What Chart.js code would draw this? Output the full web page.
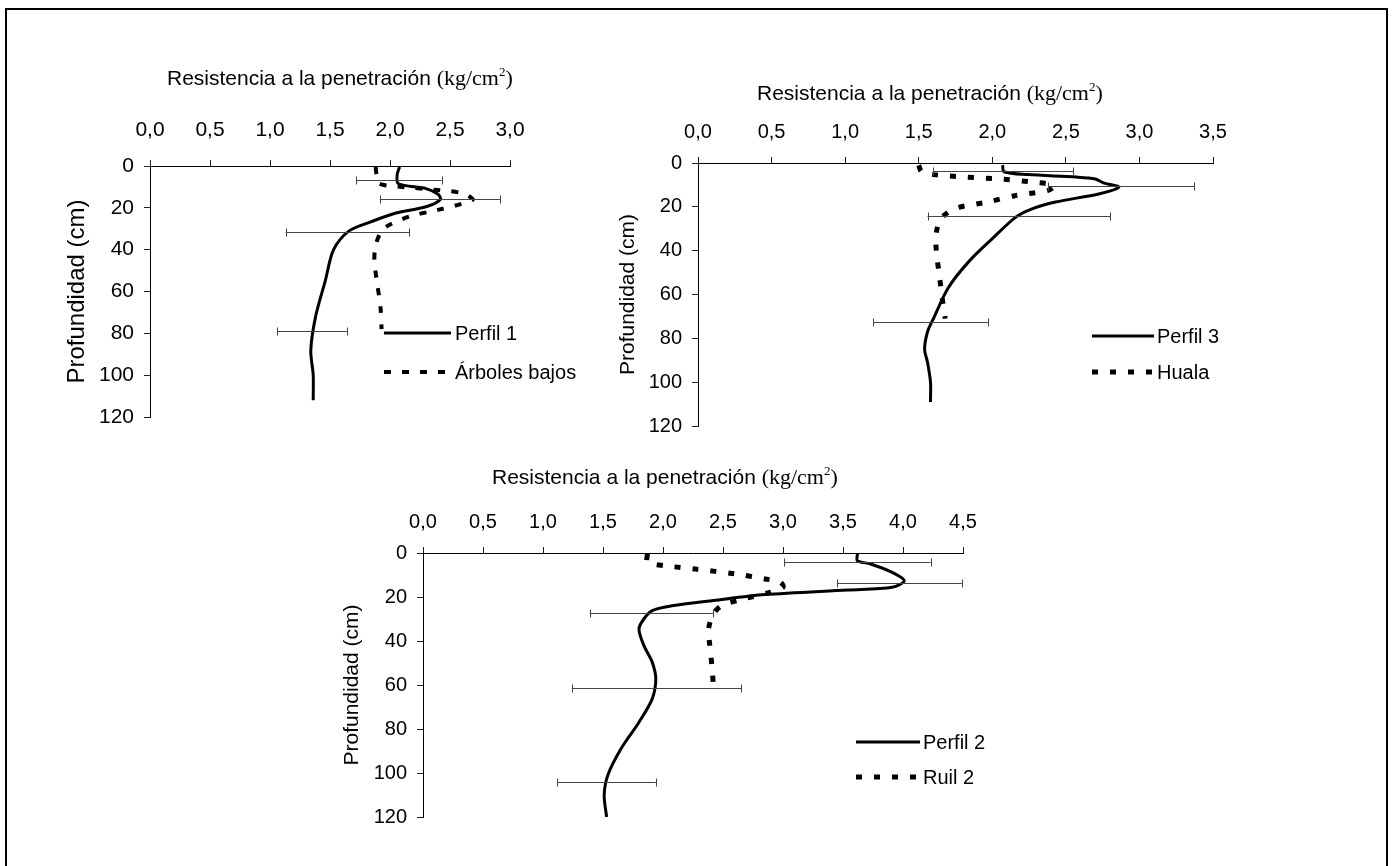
<!DOCTYPE html>
<html>
<head>
<meta charset="utf-8">
<script src="https://cdn.jsdelivr.net/npm/chart.js@4.4.0/dist/chart.umd.min.js"></script>
<style>
html, body { margin: 0; padding: 0; background: #fff; }
#page { position: relative; width: 1394px; height: 866px; overflow: hidden; }
#frame { position: absolute; left: 5px; top: 8px; width: 1383px; height: 900px; border: 2px solid #000; box-sizing: border-box; }
canvas { position: absolute; left: 0; top: 0; }
</style>
</head>
<body>
<div id="page">
  <div id="frame"></div>
  <canvas id="c1" width="1394" height="866"></canvas>
  <canvas id="c2" width="1394" height="866"></canvas>
  <canvas id="c3" width="1394" height="866"></canvas>
</div>
<script>
/***** texts *****/
var titleMain = 'Resistencia a la penetración';
var titleUnit = '(kg/cm';
var titleSup = '2';
var titleClose = ')';
var yTitle = 'Profundidad (cm)';

/***** chart 1: Perfil 1 / Árboles bajos *****/
var names1 = ['Perfil 1', 'Árboles bajos'];
var depthP1 = [0.5, 4, 8.5, 10.8, 13.5, 16, 19.5, 22.5, 26.5, 31, 40, 55, 72, 88, 100, 112];
var resP1 = [2.08, 2.06, 2.07, 2.30, 2.40, 2.42, 2.30, 2.05, 1.85, 1.66, 1.53, 1.46, 1.38, 1.34, 1.36, 1.36];
var depthAB = [0.5, 5, 8.5, 10, 11.5, 13, 16, 18, 21, 24, 28, 31, 38, 45, 55, 67, 78];
var resAB = [1.88, 1.89, 1.91, 2.10, 2.40, 2.60, 2.69, 2.60, 2.40, 2.17, 2.00, 1.93, 1.88, 1.87, 1.89, 1.92, 1.93];
var errDepth1 = [6.5, 16, 31.5, 79];
var errMean1 = [2.075, 2.415, 1.645, 1.35];
var errSd1 = [0.355, 0.5, 0.515, 0.29];
var xTicks1 = [0, 0.5, 1, 1.5, 2, 2.5, 3];

/***** chart 2: Perfil 3 / Huala *****/
var names2 = ['Perfil 3', 'Huala'];
var depthP3 = [1, 4, 5.3, 6.4, 7.3, 9.2, 11, 14, 17.8, 20.9, 24.7, 34.5, 45, 57, 71, 77, 85, 91, 100, 109];
var resP3 = [2.07, 2.08, 2.24, 2.57, 2.70, 2.76, 2.86, 2.73, 2.43, 2.27, 2.16, 2.00, 1.84, 1.70, 1.60, 1.56, 1.54, 1.56, 1.58, 1.58];
var depthHU = [1, 4, 5.3, 6.4, 7.2, 8.7, 10.2, 12.5, 14.8, 17.8, 20.5, 24.7, 31.5, 40.6, 51, 62, 71];
var resHU = [1.50, 1.52, 1.60, 1.81, 2.03, 2.27, 2.42, 2.38, 2.16, 1.97, 1.76, 1.66, 1.62, 1.62, 1.64, 1.66, 1.68];
var errDepth2 = [3.8, 10.5, 24.4, 72.6];
var errMean2 = [2.075, 2.875, 2.18, 1.58];
var errSd2 = [0.475, 0.495, 0.62, 0.39];
var xTicks2 = [0, 0.5, 1, 1.5, 2, 2.5, 3, 3.5];

/***** chart 3: Perfil 2 / Ruil 2 *****/
var names3 = ['Perfil 2', 'Ruil 2'];
var depthP2 = [0.5, 3.5, 5, 8.8, 12.6, 15.6, 16.8, 18.9, 21.6, 23.9, 26.2, 30, 34.5, 42, 49.6, 57.2, 66.3, 76.9, 89, 101, 110, 120];
var resP2 = [3.62, 3.62, 3.73, 3.91, 4.01, 3.91, 3.54, 2.85, 2.42, 2.09, 1.91, 1.84, 1.80, 1.84, 1.91, 1.94, 1.91, 1.80, 1.65, 1.54, 1.51, 1.53];
var depthRU = [0.5, 4.2, 5.8, 7.3, 9.5, 11.8, 13.3, 15.6, 17.9, 20.9, 23.9, 27.7, 34.5, 42, 52.7, 61];
var resRU = [1.87, 1.87, 2.02, 2.27, 2.60, 2.85, 2.98, 3.00, 2.89, 2.67, 2.49, 2.42, 2.38, 2.39, 2.41, 2.42];
var errDepth3 = [4.2, 13.6, 27.4, 61.4, 104];
var errMean3 = [3.62, 3.97, 1.905, 1.945, 1.53];
var errSd3 = [0.61, 0.52, 0.515, 0.705, 0.41];
var xTicks3 = [0, 0.5, 1, 1.5, 2, 2.5, 3, 3.5, 4, 4.5];

var yTicks = [0, 20, 40, 60, 80, 100, 120];

var W = 1394, H = 866;
var SANS = "'Liberation Sans', Arial, sans-serif";
var SERIF = "'Liberation Serif', 'Times New Roman', serif";

function pts(xs, ys) {
    var out = [];
    for (var i = 0; i < xs.length; i++) {
        out.push({ x: xs[i], y: ys[i] });
    }
    return out;
}

// error bars, title and legend drawn through the chart's own scales
var extras = {
    id: 'extras',
    afterDatasetsDraw: function(chart) {
        var c = chart.options.plugins.extras;
        var ctx = chart.ctx;
        var xs = chart.scales.x, ys = chart.scales.y;
        ctx.save();
        ctx.strokeStyle = '#444';
        ctx.lineWidth = 1;
        for (var i = 0; i < c.errDepth.length; i++) {
            var py = Math.round(ys.getPixelForValue(c.errDepth[i])) + 0.5;
            var x0 = xs.getPixelForValue(c.errMean[i] - c.errSd[i]);
            var x1 = xs.getPixelForValue(c.errMean[i] + c.errSd[i]);
            ctx.beginPath();
            ctx.moveTo(x0, py); ctx.lineTo(x1, py);
            ctx.moveTo(Math.round(x0) + 0.5, py - 4); ctx.lineTo(Math.round(x0) + 0.5, py + 4);
            ctx.moveTo(Math.round(x1) + 0.5, py - 4); ctx.lineTo(Math.round(x1) + 0.5, py + 4);
            ctx.stroke();
        }
        ctx.restore();
    },
    afterDraw: function(chart) {
        var c = chart.options.plugins.extras;
        var ctx = chart.ctx;
        ctx.save();
        // axis title with mixed fonts
        ctx.fillStyle = '#000';
        ctx.textBaseline = 'alphabetic';
        ctx.textAlign = 'left';
        var tx = c.title.x, ty = c.title.y + 7;
        ctx.font = c.title.size + 'px ' + SANS;
        ctx.fillText(titleMain, tx, ty);
        tx += ctx.measureText(titleMain + ' ').width;
        ctx.font = (c.title.size + 1) + 'px ' + SERIF;
        ctx.fillText(titleUnit, tx, ty);
        tx += ctx.measureText(titleUnit).width;
        ctx.font = '13px ' + SERIF;
        ctx.fillText(titleSup, tx, ty - 9);
        tx += ctx.measureText(titleSup).width;
        ctx.font = (c.title.size + 1) + 'px ' + SERIF;
        ctx.fillText(titleClose, tx, ty);

        // legend
        var ds = chart.data.datasets;
        ctx.font = '20px ' + SANS;
        ctx.textBaseline = 'middle';
        for (var i = 0; i < ds.length; i++) {
            var ly = c.legend.rows[i];
            ctx.beginPath();
            ctx.strokeStyle = ds[i].borderColor;
            ctx.lineWidth = ds[i].borderWidth;
            ctx.setLineDash(ds[i].borderDash || []);
            ctx.moveTo(c.legend.x0, ly);
            ctx.lineTo(c.legend.x1, ly);
            ctx.stroke();
            ctx.setLineDash([]);
            ctx.fillText(ds[i].label, c.legend.tx, ly + 1);
        }
        ctx.restore();
    }
};

function makeChart(id, c) {
    var padLeft = c.yTitleX - c.yTitleSize * 0.6;
    return new Chart(document.getElementById(id), {
        type: 'scatter',
        data: {
            datasets: [{
                label: c.names[0],
                data: pts(c.solidX, c.solidY),
                showLine: true,
                borderColor: '#000',
                borderWidth: 3,
                pointRadius: 0,
                tension: 0.3,
                order: 1
            }, {
                label: c.names[1],
                data: pts(c.dashX, c.dashY),
                showLine: true,
                borderColor: '#000',
                borderWidth: c.dashWidth,
                borderDash: c.dash,
                borderCapStyle: 'butt',
                pointRadius: 0,
                tension: 0.3,
                order: 0
            }]
        },
        options: {
            responsive: false,
            animation: false,
            events: [],
            layout: {
                padding: { left: padLeft, top: 0, right: W - c.area.right, bottom: H - c.area.bottom }
            },
            plugins: {
                legend: { display: false },
                tooltip: { enabled: false },
                extras: {
                    errDepth: c.errDepth, errMean: c.errMean, errSd: c.errSd,
                    title: c.title, legend: c.legend
                }
            },
            scales: {
                x: {
                    type: 'linear',
                    position: 'top',
                    min: 0,
                    max: c.xTicks[c.xTicks.length - 1],
                    afterBuildTicks: function(s) { s.ticks = c.xTicks.map(function(v) { return { value: v }; }); },
                    afterFit: function(s) { s.height = c.area.top; },
                    grid: { drawOnChartArea: false, drawTicks: true, tickLength: 6, color: '#222' },
                    border: { display: true, color: '#000', width: 1 },
                    ticks: {
                        autoSkip: false, maxRotation: 0, color: '#000', padding: c.xTickPad,
                        font: { family: SANS, size: c.tickSize },
                        callback: function(v) { return v.toFixed(1).replace('.', ','); }
                    }
                },
                y: {
                    type: 'linear',
                    position: 'left',
                    reverse: true,
                    min: 0,
                    max: 120,
                    afterBuildTicks: function(s) { s.ticks = yTicks.map(function(v) { return { value: v }; }); },
                    afterFit: function(s) { s.width = c.area.left - padLeft; },
                    grid: { drawOnChartArea: false, drawTicks: true, tickLength: 6, color: '#222' },
                    border: { display: true, color: '#000', width: 1 },
                    ticks: {
                        autoSkip: false, color: '#000', padding: 10,
                        font: { family: SANS, size: c.tickSize }
                    },
                    title: {
                        display: true, text: yTitle, color: '#000',
                        padding: { top: 0, bottom: 0 },
                        font: { family: SANS, size: c.yTitleSize }
                    }
                }
            }
        },
        plugins: [extras]
    });
}

makeChart('c1', {
    names: names1, solidX: resP1, solidY: depthP1, dashX: resAB, dashY: depthAB,
    errDepth: errDepth1, errMean: errMean1, errSd: errSd1, xTicks: xTicks1,
    dash: [7, 11], dashWidth: 4,
    area: { left: 150, top: 166, right: 510, bottom: 417 },
    tickSize: 21, xTickPad: 17, yTitleX: 77, yTitleSize: 24,
    title: { x: 167, y: 78, size: 21 },
    legend: { x0: 384, x1: 451, tx: 455, rows: [333, 372] }
});

makeChart('c2', {
    names: names2, solidX: resP3, solidY: depthP3, dashX: resHU, dashY: depthHU,
    errDepth: errDepth2, errMean: errMean2, errSd: errSd2, xTicks: xTicks2,
    dash: [6, 12], dashWidth: 5,
    area: { left: 698, top: 163, right: 1213, bottom: 426 },
    tickSize: 20, xTickPad: 13, yTitleX: 628, yTitleSize: 21,
    title: { x: 757, y: 93, size: 21 },
    legend: { x0: 1092, x1: 1154, tx: 1157, rows: [336, 372] }
});

makeChart('c3', {
    names: names3, solidX: resP2, solidY: depthP2, dashX: resRU, dashY: depthRU,
    errDepth: errDepth3, errMean: errMean3, errSd: errSd3, xTicks: xTicks3,
    dash: [6, 12], dashWidth: 5,
    area: { left: 423, top: 553, right: 963, bottom: 817 },
    tickSize: 20, xTickPad: 13, yTitleX: 352, yTitleSize: 21,
    title: { x: 492, y: 477, size: 21 },
    legend: { x0: 856, x1: 920, tx: 923, rows: [742, 777] }
});
</script>
</body>
</html>
